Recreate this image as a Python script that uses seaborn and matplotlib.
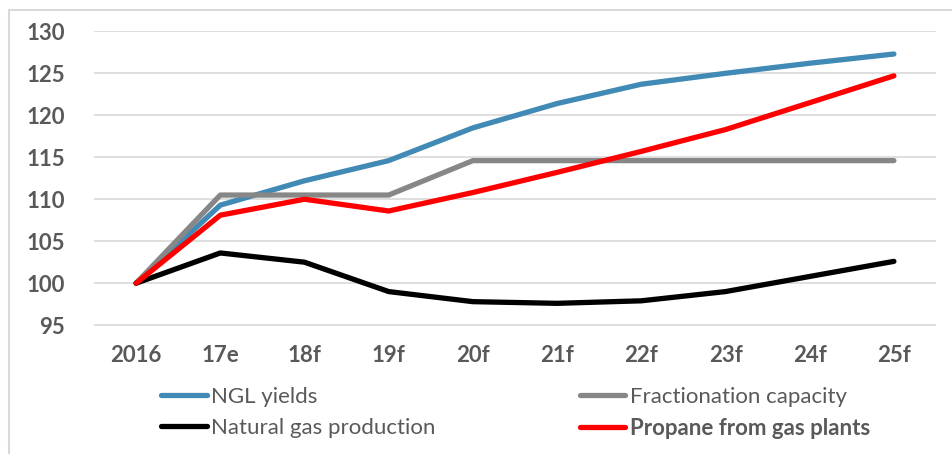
import matplotlib
matplotlib.use("Agg")
import matplotlib.pyplot as plt
import seaborn as sns
import pandas as pd
from matplotlib.patches import Rectangle

years = ["2016", "17e", "18f", "19f", "20f", "21f", "22f", "23f", "24f", "25f"]
ngl_yields = [100, 109.3, 112.2, 114.6, 118.5, 121.4, 123.7, 125.0, 126.2, 127.3]
fractionation = [100, 110.5, 110.5, 110.5, 114.6, 114.6, 114.6, 114.6, 114.6, 114.6]
natural_gas = [100, 103.6, 102.5, 99.0, 97.8, 97.6, 97.9, 99.0, 100.8, 102.6]
propane = [100, 108.1, 110.0, 108.6, 110.8, 113.2, 115.7, 118.3, 121.5, 124.7]
y_ticks = [95, 100, 105, 110, 115, 120, 125, 130]

series = {
    "NGL yields": ngl_yields,
    "Fractionation capacity": fractionation,
    "Natural gas production": natural_gas,
    "Propane from gas plants": propane,
}
colors = {
    "NGL yields": "#418ab6",
    "Fractionation capacity": "#878787",
    "Natural gas production": "#000000",
    "Propane from gas plants": "#ff0000",
}

rows = []
for name, vals in series.items():
    for i, (yr, v) in enumerate(zip(years, vals)):
        rows.append({"pos": i, "year": yr, "value": v, "series": name})
df = pd.DataFrame(rows)

sns.set_theme(style="white")
plt.rcParams["font.family"] = ["Lato", "DejaVu Sans"]

txt = "#595959"
fig = plt.figure(figsize=(9.52, 4.54), dpi=100)
ax = fig.add_axes([94 / 952, (454 - 326) / 454, (936 - 94) / 952, (326 - 30.5) / 454])

sns.lineplot(data=df, x="pos", y="value", hue="series", palette=colors,
             hue_order=list(series.keys()), linewidth=3.8, ax=ax,
             solid_capstyle="round", solid_joinstyle="round", zorder=3)

ax.set_xlim(-0.5, len(years) - 0.5)
ax.set_ylim(94.9, 130.1)
ax.set_yticks(y_ticks)
ax.set_xticks(range(len(years)))
ax.set_xticklabels(years)
ax.grid(axis="y", color="#d9d9d9", linewidth=1.2, zorder=0)
ax.grid(axis="x", visible=False)
for s in ax.spines.values():
    s.set_visible(False)
ax.set_xlabel("")
ax.set_ylabel("")
ax.tick_params(axis="both", length=0, labelsize=16, labelcolor=txt)
ax.tick_params(axis="x", pad=14)
ax.tick_params(axis="y", pad=21)
for lab in ax.get_xticklabels() + ax.get_yticklabels():
    lab.set_fontweight("bold")

handles, labels = ax.get_legend_handles_labels()
ax.get_legend().remove()
order = [0, 2, 1, 3]
leg = fig.legend([handles[i] for i in order], [labels[i] for i in order],
                 ncol=2, loc="center left", bbox_to_anchor=(150 / 952, (454 - 413) / 454),
                 frameon=False, fontsize=16, handlelength=2.05, handletextpad=0.2,
                 columnspacing=6.5, labelspacing=0.5, borderpad=0)
for t in leg.get_texts():
    t.set_color(txt)
leg.get_texts()[3].set_fontweight("bold")

fig.patches.append(Rectangle((8.5 / 952, -0.1), 1.2, (454 - 10) / 454 + 0.1,
                             transform=fig.transFigure, fill=False,
                             edgecolor="#d9d9d9", linewidth=1.5))

fig.savefig("out.png", dpi=100)
